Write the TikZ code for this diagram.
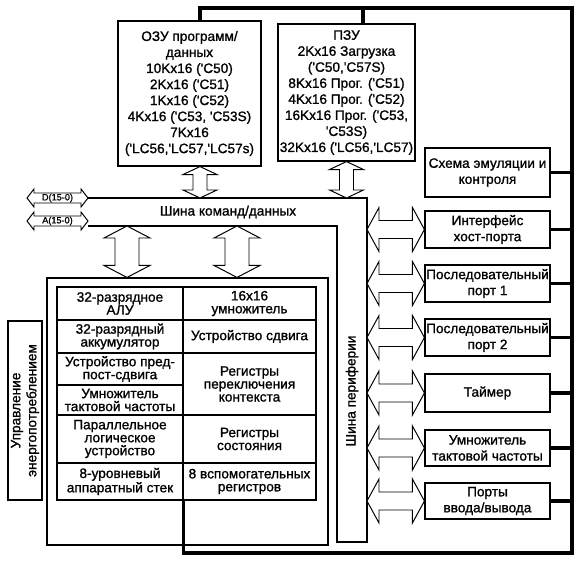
\documentclass[tikz,border=0pt]{standalone}
\usepackage{fontspec}
\setmainfont{Liberation Sans}
\newfontfamily\diagfont{Liberation Sans}[FakeBold=1.1]
\usetikzlibrary{calc}

% hollow double block arrows: half head, half shaft, head length, end, end
\newcommand{\vblockarrow}[5]{%
  \draw[blk] (#4) -- ++(#1,#3) -- ++({#2-#1},0) -- ($(#5)+(#2,-#3)$) -- ++({#1-#2},0) -- (#5)
    -- ++(-#1,-#3) -- ++({#1-#2},0) -- ($(#4)+(-#2,#3)$) -- ++({#2-#1},0) -- cycle;}
\newcommand{\hblockarrow}[5]{%
  \draw[blk] (#4) -- ++(#3,-#1) -- ++(0,{#1-#2}) -- ($(#5)+(-#3,-#2)$) -- ++(0,{#2-#1}) -- (#5)
    -- ++(-#3,#1) -- ++(0,{#2-#1}) -- ($(#4)+(#3,#2)$) -- ++(0,{#1-#2}) -- cycle;}

\begin{document}
\begin{tikzpicture}[x=0.025cm, y=-0.025cm,
    font=\diagfont\fontsize{9.7}{11.4}\selectfont,
    sz/.style 2 args={minimum width=#1*0.025cm, minimum height=#2*0.025cm},
    box/.style={draw, line width=0.8pt, inner sep=0pt, align=center},
    cell/.style={draw, line width=1.1pt, inner sep=0pt, align=center, font=\diagfont\fontsize{9.7}{9.2}\selectfont},
    blk/.style={draw, line width=0.7pt, fill=white, line join=miter},
    ctrl/.style={line width=2.2pt},
    busline/.style={line width=0.8pt},
    buslbl/.style={font=\diagfont\fontsize{6.5}{7}\selectfont, inner sep=0pt}
]
\useasboundingbox (0,0) rectangle (581,565);

% memories
\node[box, sz={143}{145}] (ozu) at (189.5,93.5) {ОЗУ программ/\\данных\\10Kx16 ('C50)\\2Kx16 ('C51)\\1Kx16 ('C52)\\4Kx16 ('C53, 'C53S)\\7Kx16\\('LC56,'LC57,'LC57s)};
\node[box, sz={137}{137}] (pzu) at (346.5,92.5) {ПЗУ\\2Kx16 Загрузка\\('C50,'C57S)\\8Kx16 Прог. ('C51)\\4Kx16 Прог. ('C52)\\16Kx16 Прог. ('C53,\\'C53S)\\32Kx16 ('LC56,'LC57)};

% peripherals
\node[box, sz={125}{49}] (emu) at (487.5,172.5) {Схема эмуляции и\\контроля};
\node[box, sz={125}{37}] (host) at (487.5,229.5) {Интерфейс\\хост-порта};
\node[box, sz={125}{37}] (sp1) at (487.5,283.5) {Последовательный\\порт 1};
\node[box, sz={125}{37}] (sp2) at (487.5,337.5) {Последовательный\\порт 2};
\node[box, sz={125}{38}] (tmr) at (487.5,393) {Таймер};
\node[box, sz={125}{36}] (pll) at (487.5,448) {Умножитель\\тактовой частоты};
\node[box, sz={125}{36}] (io) at (487.5,501) {Порты\\ввода/вывода};

% CPU core
\node[box, sz={281}{267}] (core) at (187.5,411.5) {};
\node[cell, sz={126}{33}] (alu) at (120,303.5) {32-разрядное\\АЛУ};
\node[cell, sz={126}{33}] (acc) at (120,336.5) {32-разрядный\\аккумулятор};
\node[cell, sz={126}{32}] (prsh) at (120,369) {Устройство пред-\\пост-сдвига};
\node[cell, sz={126}{30}] (clkm) at (120,400) {Умножитель\\тактовой частоты};
\node[cell, sz={126}{48}] (plu) at (120,439) {Параллельное\\логическое\\устройство};
\node[cell, sz={126}{37}] (stack) at (120,481.5) {8-уровневый\\аппаратный стек};
\node[cell, sz={133}{33}] (mpy) at (249.5,303.5) {16x16\\умножитель};
\node[cell, sz={133}{33}] (shft) at (249.5,336.5) {Устройство сдвига};
\node[cell, sz={133}{62}] (ctx) at (249.5,384) {Регистры\\переключения\\контекста};
\node[cell, sz={133}{48}] (stat) at (249.5,439) {Регистры\\состояния};
\node[cell, sz={133}{37}] (aux) at (249.5,481.5) {8 вспомогательных\\регистров};

\node[box, sz={34}{179}] (pwr) at (25,410.5) {};
\node[rotate=90, align=center] (pwrtxt) at (pwr.center) {Управление\\энергопотреблением};

% buses
\coordinate (cbus nw) at (88,198);
\coordinate (cbus sw) at (88,226);
\coordinate (pbus ne) at (367,198);
\coordinate (pbus se) at (367,542);
\coordinate (pbus sw) at (337,542);
\coordinate (pbus nw) at (337,226);
\draw[busline] (cbus nw) -- (pbus ne) -- (pbus se) -- (pbus sw) -- (pbus nw) -- (cbus sw);
\node (cbuslbl) at (228,212) {Шина команд/данных};
\node[rotate=90] (pbuslbl) at (352,391) {Шина периферии};

% control frame
\coordinate (ozux) at (200,0);
\coordinate (pzux) at (363,0);
\coordinate (ctl ne) at (572,8);
\coordinate (ctl se) at (572,553);
\draw[ctrl] (ozu.north -| ozux) |- (ctl ne) -- (ctl se) -| (stack.south east);
\draw[ctrl] (pzu.north -| pzux) -- (pzux |- ctl ne);
\foreach \p in {emu,host,sp1,sp2,tmr,pll,io}
  \draw[ctrl] (\p.east) -- (\p.east -| ctl ne);

% block arrows
\coordinate (ozutop) at (ozu.south -| ozux);
\coordinate (ozubot) at (cbus nw -| ozux);
\vblockarrow{17}{7}{8}{ozutop}{ozubot}
\coordinate (pzubot) at (cbus nw -| pzu.south);
\vblockarrow{17}{7}{8}{pzu.south}{pzubot}
\coordinate (c1x) at (127,0);
\coordinate (c2x) at (237,0);
\coordinate (c1top) at (cbus sw -| c1x);
\coordinate (c1bot) at (core.north -| c1x);
\coordinate (c2top) at (cbus sw -| c2x);
\coordinate (c2bot) at (core.north -| c2x);
\vblockarrow{23}{12}{12}{c1top}{c1bot}
\vblockarrow{23}{12}{12}{c2top}{c2bot}
\foreach \p in {host,sp1,sp2,tmr,pll,io}{
  \coordinate (\p bus) at (pbus ne |- \p.west);
  \hblockarrow{22}{9}{12}{\p bus}{\p.west}
}

% external pins
\coordinate (dpin) at (27,198);
\coordinate (apin) at (27,221);
\coordinate (abus) at (apin -| cbus sw);
\hblockarrow{9}{5}{7}{dpin}{cbus nw}
\hblockarrow{9}{5}{7}{apin}{abus}
\node[buslbl] (dlbl) at ($(dpin)!0.5!(cbus nw)$) {D(15-0)};
\node[buslbl] (albl) at ($(apin)!0.5!(abus)$) {A(15-0)};
\end{tikzpicture}
\end{document}
